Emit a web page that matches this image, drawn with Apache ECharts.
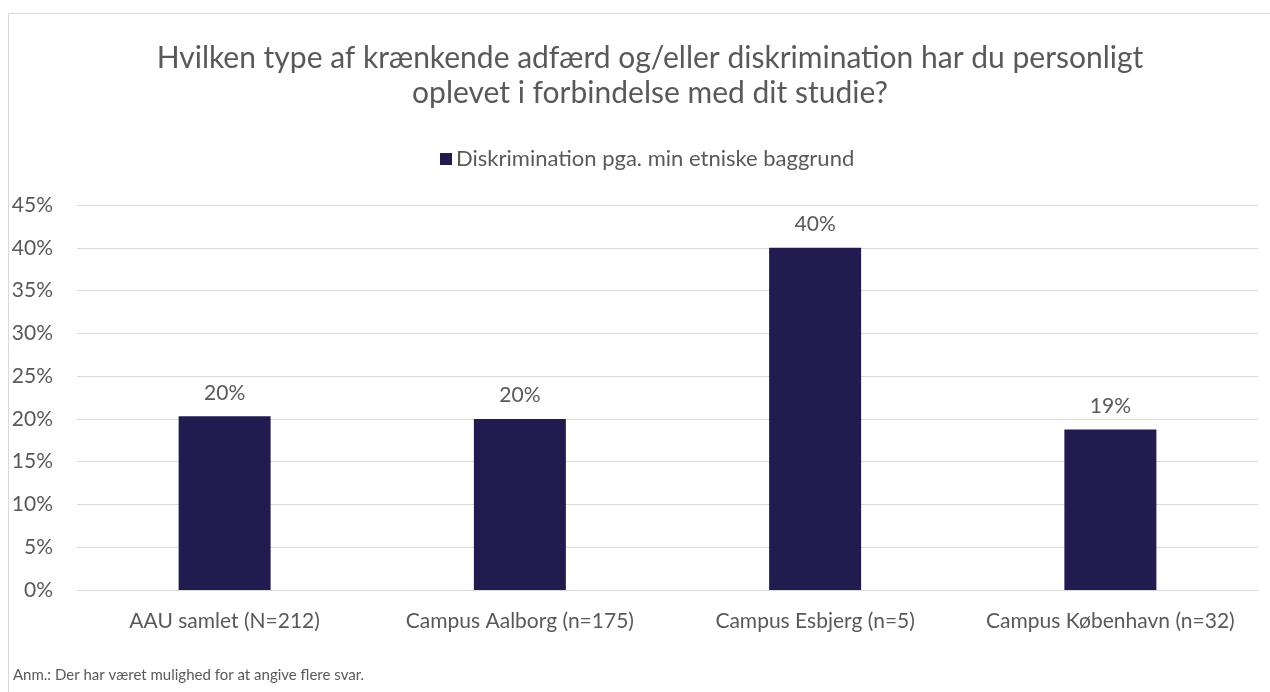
<!DOCTYPE html>
<html>
<head>
<meta charset="utf-8">
<script src="https://cdn.jsdelivr.net/npm/echarts@6/dist/echarts.min.js"></script>
<style>
  html, body { margin: 0; padding: 0; background: #fff; }
  #chart { width: 1270px; height: 692px; }
</style>
</head>
<body>
<div id="chart"></div>
<script>
// data
var categories = [
  "AAU samlet (N=212)",
  "Campus Aalborg (n=175)",
  "Campus Esbjerg (n=5)",
  "Campus København (n=32)"
];
var seriesName = "Diskrimination pga. min etniske baggrund";
var values = [20.3, 20.0, 40.0, 18.75];

var font = "Lato, 'Open Sans', sans-serif";
var grey = "#595959";

var chart = echarts.init(document.getElementById("chart"));

var option = {
  backgroundColor: "#fff",
  textStyle: { fontFamily: font },
  title: {
    text: "Hvilken type af krænkende adfærd og/eller diskrimination har du personligt\noplevet i forbindelse med dit studie?",
    left: 645,
    top: 36,
    textAlign: "center",
    textStyle: {
      fontFamily: font,
      fontSize: 30,
      fontWeight: "normal",
      color: grey,
      lineHeight: 35
    }
  },
  legend: {
    data: [seriesName],
    top: 143,
    left: 435,
    icon: "rect",
    itemWidth: 12,
    itemHeight: 12,
    itemGap: 6,
    textStyle: { fontFamily: font, fontSize: 22, color: grey, padding: [0, 0, 0, -1] }
  },
  grid: {
    left: 77,
    right: 12,
    top: 205,
    bottom: 102
  },
  xAxis: {
    type: "category",
    data: categories,
    axisLine: { show: true, lineStyle: { color: "#d9d9d9" } },
    axisTick: { show: false },
    axisLabel: { color: grey, fontSize: 21, margin: 21, interval: 0, fontFamily: font }
  },
  yAxis: {
    type: "value",
    min: 0,
    max: 45,
    interval: 5,
    axisLine: { show: false },
    axisTick: { show: false },
    splitLine: { lineStyle: { color: "#d9d9d9" } },
    axisLabel: {
      color: grey,
      fontSize: 21,
      margin: 24,
      fontFamily: font,
      formatter: "{value}%"
    }
  },
  series: [
    {
      name: seriesName,
      type: "bar",
      data: values,
      barWidth: 92,
      itemStyle: { color: "#221b4f" },
      label: {
        show: true,
        position: "top",
        distance: 13,
        color: grey,
        fontSize: 21,
        fontFamily: font,
        formatter: function (p) { return Math.round(p.value) + "%"; }
      }
    }
  ],
  graphic: [
    {
      type: "rect",
      shape: { x: 8.5, y: 13.5, width: 1300, height: 700 },
      style: { fill: "none", stroke: "#d9d9d9", lineWidth: 1 },
      z: -1
    },
    {
      type: "text",
      left: 13,
      top: 668,
      style: {
        text: "Anm.: Der har været mulighed for at angive flere svar.",
        fill: grey,
        fontSize: 15,
        fontFamily: font
      }
    }
  ]
};

chart.setOption(option);
</script>
</body>
</html>
